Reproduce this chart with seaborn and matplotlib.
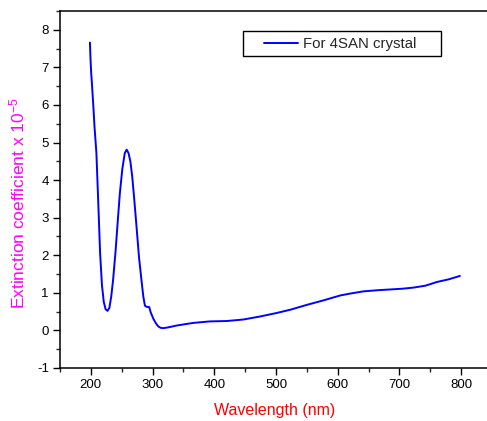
import matplotlib
matplotlib.use("Agg")
import matplotlib.pyplot as plt
import seaborn as sns
import pandas as pd
from matplotlib.ticker import MultipleLocator
from matplotlib.patches import Rectangle

wavelength = [198.5, 199.5, 200.5, 202, 204, 206, 209, 212, 215, 218, 221, 224, 227, 230, 233, 236,
              240, 244, 247, 251, 255, 258, 261, 264, 267, 270, 274, 278, 282, 285, 287.6, 290,
              294.6, 297, 301, 305, 309, 313, 317, 325, 339, 366, 393, 420, 447, 474, 500, 523,
              550, 577, 604, 620, 642, 665, 685, 705, 723, 742, 761, 780, 798]
extinction = [7.66, 7.2, 6.86, 6.5, 5.97, 5.4, 4.72, 3.4, 2.05, 1.2, 0.75, 0.56, 0.52, 0.6, 0.9, 1.34,
              2.1, 3.0, 3.65, 4.3, 4.72, 4.81, 4.72, 4.5, 4.1, 3.55, 2.76, 1.95, 1.34, 0.9, 0.66, 0.63,
              0.62, 0.48, 0.32, 0.2, 0.11, 0.07, 0.06, 0.08, 0.13, 0.2, 0.24, 0.25, 0.29, 0.37, 0.46,
              0.55, 0.68, 0.80, 0.93, 0.98, 1.04, 1.07, 1.09, 1.11, 1.14, 1.19, 1.29, 1.36, 1.45]
series_label = "For 4SAN crystal"

df = pd.DataFrame({"Wavelength": wavelength, "Extinction": extinction, "Series": series_label})

sns.set_style("white")
plt.rcParams['font.family'] = ['Liberation Sans', 'DejaVu Sans']
plt.rcParams['axes.unicode_minus'] = False
plt.rcParams['mathtext.fontset'] = 'custom'
plt.rcParams['mathtext.rm'] = 'Liberation Sans'
plt.rcParams['mathtext.it'] = 'Liberation Sans'

fig = plt.figure(figsize=(4.87, 4.21), dpi=100)
ax = fig.add_axes([60/487, 53/421, 432/487, 357/421])

sns.lineplot(data=df, x="Wavelength", y="Extinction", hue="Series", palette=["#0000ff"],
             linewidth=1.4, ax=ax, legend=True)

ax.set_xlim(150, 850)
ax.set_ylim(-1, 8.5)
ax.xaxis.set_major_locator(MultipleLocator(100))
ax.xaxis.set_minor_locator(MultipleLocator(50))
ax.yaxis.set_major_locator(MultipleLocator(1))
ax.yaxis.set_minor_locator(MultipleLocator(0.5))
ax.tick_params(which='major', direction='out', length=5, width=1, labelsize=9.5, colors='black',
               bottom=True, left=True, pad=3)
ax.tick_params(which='minor', direction='out', length=3, width=1, bottom=True, left=True)
ax.set_xticks([200, 300, 400, 500, 600, 700, 800])
ax.set_yticks([-1, 0, 1, 2, 3, 4, 5, 6, 7, 8])

for s in ['left', 'bottom', 'top']:
    ax.spines[s].set_color('black')
    ax.spines[s].set_linewidth(1.1)
ax.spines['right'].set_visible(False)

ax.set_xlabel("Wavelength (nm)", color='red', fontsize=11.5)
ax.xaxis.set_label_coords((275 - 60) / 432, -(410 - 368) / 357)
ax.xaxis.label.set_va('center')
ax.set_ylabel("Extinction coefficient x 10$^{\\mathrm{-5}}$", color='#ff00ff', fontsize=12.5)
ax.yaxis.set_label_coords((17 - 60) / 432, (368 - 203) / 357)
ax.yaxis.label.set_va('center')

leg = ax.legend(loc='center left', bbox_to_anchor=(256/487, 1 - 44/421), bbox_transform=fig.transFigure,
                frameon=False, fontsize=10.8, handlelength=2.3, borderpad=0.0,
                handletextpad=0.35, title=None)
for line in leg.get_lines():
    line.set_linewidth(1.4)

fig.patches.append(Rectangle((243/487, 1 - 56/421), 198/487, 25/421, transform=fig.transFigure,
                             fill=False, edgecolor='black', linewidth=1.0, zorder=5))

fig.savefig("out.png", dpi=100)
